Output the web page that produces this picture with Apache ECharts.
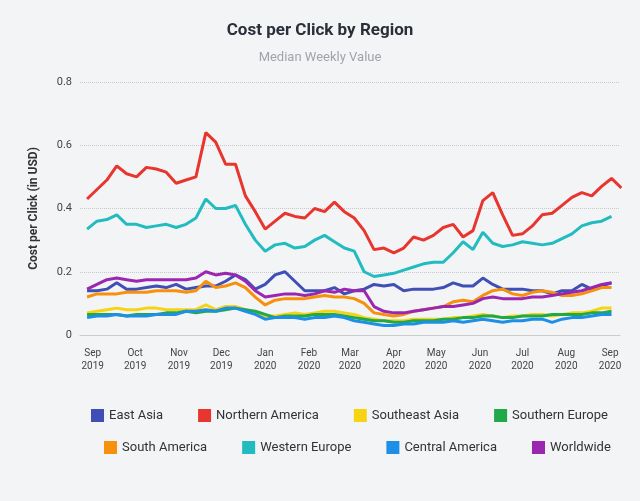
<!DOCTYPE html>
<html><head><meta charset="utf-8">
<script src="https://cdn.jsdelivr.net/npm/echarts@6/dist/echarts.min.js"></script>
<style>html,body{margin:0;padding:0;background:#f3f4f6}#c{width:640px;height:501px}</style>
</head><body><div id="c"></div>
<script>
const startDate = '2019-08-28';
const eastAsia = [.14,.14,.145,.165,.145,.145,.15,.155,.15,.16,.145,.15,.155,.155,.17,.19,.175,.145,.16,.19,.20,.17,.14,.14,.14,.15,.13,.14,.145,.16,.155,.16,.14,.145,.145,.145,.15,.165,.155,.155,.18,.16,.145,.145,.145,.14,.14,.13,.14,.14,.16,.145,.155,.165];
const northernAmerica = [.43,.46,.49,.535,.51,.5,.53,.525,.515,.48,.49,.5,.64,.61,.54,.54,.44,.39,.335,.36,.385,.375,.37,.4,.39,.42,.39,.37,.33,.27,.275,.26,.275,.31,.3,.315,.34,.35,.31,.33,.425,.45,.38,.315,.32,.345,.38,.385,.41,.435,.45,.44,.47,.495,.465];
const southeastAsia = [.07,.075,.08,.085,.08,.08,.085,.085,.08,.08,.08,.08,.095,.08,.09,.09,.08,.07,.06,.06,.065,.07,.065,.07,.075,.075,.07,.065,.055,.05,.045,.045,.045,.05,.05,.05,.05,.055,.055,.06,.065,.06,.055,.06,.06,.065,.065,.06,.065,.07,.07,.075,.085,.085];
const southernEurope = [.065,.065,.065,.065,.06,.065,.065,.065,.07,.07,.075,.07,.075,.075,.08,.085,.08,.075,.065,.055,.06,.06,.06,.065,.065,.065,.06,.055,.05,.045,.045,.04,.04,.045,.045,.045,.05,.05,.055,.055,.06,.06,.055,.055,.06,.06,.06,.065,.065,.065,.065,.07,.07,.075];
const southAmerica = [.12,.13,.13,.13,.135,.135,.135,.14,.14,.14,.135,.14,.17,.15,.155,.165,.15,.12,.095,.11,.115,.115,.115,.12,.125,.12,.12,.115,.10,.07,.065,.06,.065,.075,.08,.085,.09,.105,.11,.105,.125,.14,.145,.13,.125,.135,.14,.135,.125,.125,.13,.14,.15,.15];
const westernEurope = [.335,.36,.365,.38,.35,.35,.34,.345,.35,.34,.35,.37,.43,.40,.40,.41,.35,.30,.265,.285,.29,.275,.28,.30,.315,.295,.275,.265,.20,.185,.19,.195,.205,.215,.225,.23,.23,.26,.295,.27,.325,.29,.28,.285,.295,.29,.285,.29,.305,.32,.345,.355,.36,.375];
const centralAmerica = [.055,.06,.06,.065,.06,.06,.06,.065,.065,.065,.075,.075,.08,.075,.085,.085,.075,.065,.05,.055,.055,.055,.05,.055,.055,.06,.055,.045,.04,.035,.03,.03,.035,.035,.04,.04,.04,.045,.04,.045,.05,.045,.04,.045,.045,.05,.05,.04,.05,.055,.055,.06,.065,.065];
const worldwide = [.145,.16,.175,.18,.175,.17,.175,.175,.175,.175,.175,.18,.20,.19,.195,.19,.17,.14,.12,.125,.13,.13,.125,.13,.14,.135,.145,.14,.14,.09,.075,.07,.07,.075,.08,.085,.09,.09,.095,.10,.115,.12,.115,.115,.115,.12,.12,.125,.13,.135,.14,.15,.16,.165];
const yTicks = [0,0.2,0.4,0.6,0.8];
const months = ['Jan','Feb','Mar','Apr','May','Jun','Jul','Aug','Sep','Oct','Nov','Dec'];

const t0 = new Date(startDate+'T00:00:00Z').getTime();
const wk = 7*864e5;
const toData = arr => arr.map((v,i)=>[t0+i*wk, v]);
const seriesDefs = [
 ['East Asia', eastAsia, '#3f4fb5'],
 ['Northern America', northernAmerica, '#e8352e'],
 ['Southeast Asia', southeastAsia, '#f7d413'],
 ['Southern Europe', southernEurope, '#21a849'],
 ['South America', southAmerica, '#f7900c'],
 ['Western Europe', westernEurope, '#22bcc0'],
 ['Central America', centralAmerica, '#1e8fe6'],
 ['Worldwide', worldwide, '#9b27b0']
];
const names = seriesDefs.map(s=>s[0]);
const legendBase = {itemWidth:13, itemHeight:13, itemGap:35, icon:'rect',
   textStyle:{fontFamily:'Roboto',fontSize:13,color:'#333'}};
const chart = echarts.init(document.getElementById('c'));
chart.setOption({
 backgroundColor:'#f3f4f6',
 title:{text:'Cost per Click by Region', subtext:'Median Weekly Value', left:'center', top:17,
   textStyle:{fontFamily:'Roboto',fontSize:17,fontWeight:'bold',color:'#2b2f3a'},
   subtextStyle:{fontFamily:'Roboto',fontSize:13,color:'#a0a4aa'}, itemGap:12},
 legend:[Object.assign({top:404, left:86, data:names.slice(0,4)},legendBase),
         Object.assign({top:436, left:99, data:names.slice(4)},legendBase)],
 grid:{left:80,right:20,top:82,bottom:166},
 xAxis:{type:'time', min:Date.UTC(2019,7,23), max:Date.UTC(2020,8,8),
   splitNumber:12, minInterval:28*864e5,
   axisLine:{lineStyle:{color:'#ccc'}}, axisTick:{show:false}, splitLine:{show:false},
   axisLabel:{fontFamily:'Roboto',fontSize:10,color:'#444',lineHeight:13,margin:12,hideOverlap:false,
     formatter:v=>{const d=new Date(v);return months[d.getUTCMonth()]+'\n'+d.getUTCFullYear();}}},
 yAxis:{type:'value', min:0, max:0.8, interval:0.2, name:'Cost per Click (in USD)', nameLocation:'middle', nameGap:40,
   nameTextStyle:{fontFamily:'Roboto',fontSize:12,fontWeight:'bold',color:'#333'},
   axisLabel:{fontFamily:'Roboto',fontSize:11,color:'#444',formatter:v=>yTicks.includes(+v.toFixed(1))?String(+v.toFixed(1)):''},
   axisLine:{show:false}, axisTick:{show:false},
   splitLine:{lineStyle:{type:'dotted',color:'#c8c8c8'}}},
 series: seriesDefs.map(([n,a,c])=>({name:n,type:'line',data:toData(a),showSymbol:false,symbol:'none',
   lineStyle:{width:3,color:c},itemStyle:{color:c}}))
});
</script></body></html>
